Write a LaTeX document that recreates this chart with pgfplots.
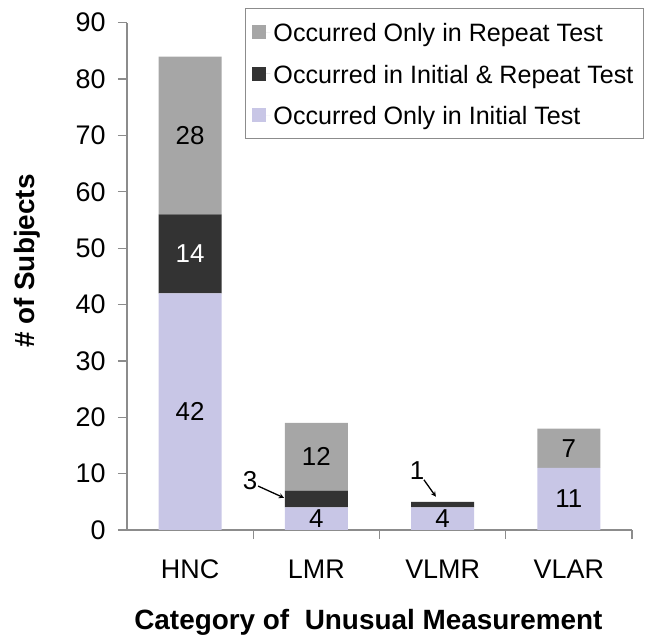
\documentclass[border=0pt]{standalone}
\usepackage{pgfplots}
\pgfplotsset{compat=1.18}
\usepackage{fontspec}
\setmainfont{Liberation Sans}
\definecolor{cRep}{RGB}{166,166,166}
\definecolor{cBoth}{RGB}{51,51,51}
\definecolor{cIni}{RGB}{200,198,230}
\definecolor{axc}{RGB}{140,140,140}
\newcommand{\fs}[1]{\fontsize{#1}{#1}\selectfont}
\pgfplotsset{sq/.style={legend image code/.code={\fill[##1] (0bp,-7bp) rectangle (14bp,7bp); \path (0bp,0bp) -- (18bp,0bp);}}}
\begin{document}
\begin{tikzpicture}
\path[use as bounding box] (0,0) rectangle (647bp,638bp);
\begin{axis}[
  at={(127bp,108bp)}, anchor=south west,
  scale only axis, width=505bp, height=507.3bp,
  xmin=-0.5, xmax=3.5, ymin=0, ymax=90,
  ybar stacked, bar width=63bp,
  axis x line*=bottom, axis y line*=left,
  axis line style={axc, line width=1.2bp},
  tick style={axc, line width=1.2bp},
  tick align=outside,
  major tick length=9bp,
  ytick={0,10,...,90},
  xtick={0.5,1.5,2.5,3.5}, xticklabels={,,,},
  extra x ticks={0,1,2,3},
  extra x tick labels={HNC,LMR,VLMR,VLAR},
  extra x tick style={tick style={draw=none}},
  /pgf/number format/assume math mode=true,
  yticklabel style={font=\fs{27}, xshift=-9bp},
  xticklabel style={font=\fs{27}, yshift=-17bp},
  every axis x label/.style={at={(axis description cs:0.478,0)}, anchor=base, yshift=-99bp},
  every axis y label/.style={at={(axis description cs:-0.197,0.53)}, anchor=center, rotate=90},
  xlabel={\fs{28}\bfseries Category of\ \ Unusual Measurement},
  ylabel={\fs{28}\bfseries \# of Subjects},
  reverse legend,
  legend cell align=left,
  legend style={at={(1,1)}, anchor=north east, xshift=12bp, yshift=14.7bp,
    font=\fs{25.2}, draw=axc, line width=1bp, inner xsep=7bp, inner ysep=9bp,
    row sep=12.5bp, nodes={inner sep=3bp, text height=21bp, text depth=2bp}},
]
\addplot[fill=cIni, draw=none, sq] coordinates {(0,42) (1,4) (2,4) (3,11)};
\addplot[fill=cBoth, draw=none, sq] coordinates {(0,14) (1,3) (2,1) (3,0)};
\addplot[fill=cRep, draw=none, sq] coordinates {(0,28) (1,12) (2,0) (3,7)};
\legend{Occurred Only in Initial Test, Occurred in Initial \& Repeat Test, Occurred Only in Repeat Test}
\draw[-stealth, line width=1.3bp] (axis cs:0.538,7.8) -- (axis cs:0.744,5.7);
\draw[-stealth, line width=1.3bp] (axis cs:1.852,8.9) -- (axis cs:1.947,5.9);
\end{axis}
\begin{axis}[
  at={(127bp,108bp)}, anchor=south west,
  scale only axis, width=505bp, height=507.3bp,
  xmin=-0.5, xmax=3.5, ymin=0, ymax=90, hide axis,
]
\addplot[draw=none, mark=none, nodes near coords, point meta=explicit symbolic,
  nodes near coords style={anchor=center, font=\fs{26}, text=black, inner sep=0pt}]
  coordinates {(0,70)[28] (0,21)[42] (1,13)[12] (1,2)[4] (2,2)[4] (3,14.5)[7] (3,5.5)[11] (0.474,8.7)[3] (1.797,10.5)[1]};
\addplot[draw=none, mark=none, nodes near coords, point meta=explicit symbolic,
  nodes near coords style={anchor=center, font=\fs{26}, text=white, inner sep=0pt}]
  coordinates {(0,49)[14]};
\end{axis}
\end{tikzpicture}
\end{document}
